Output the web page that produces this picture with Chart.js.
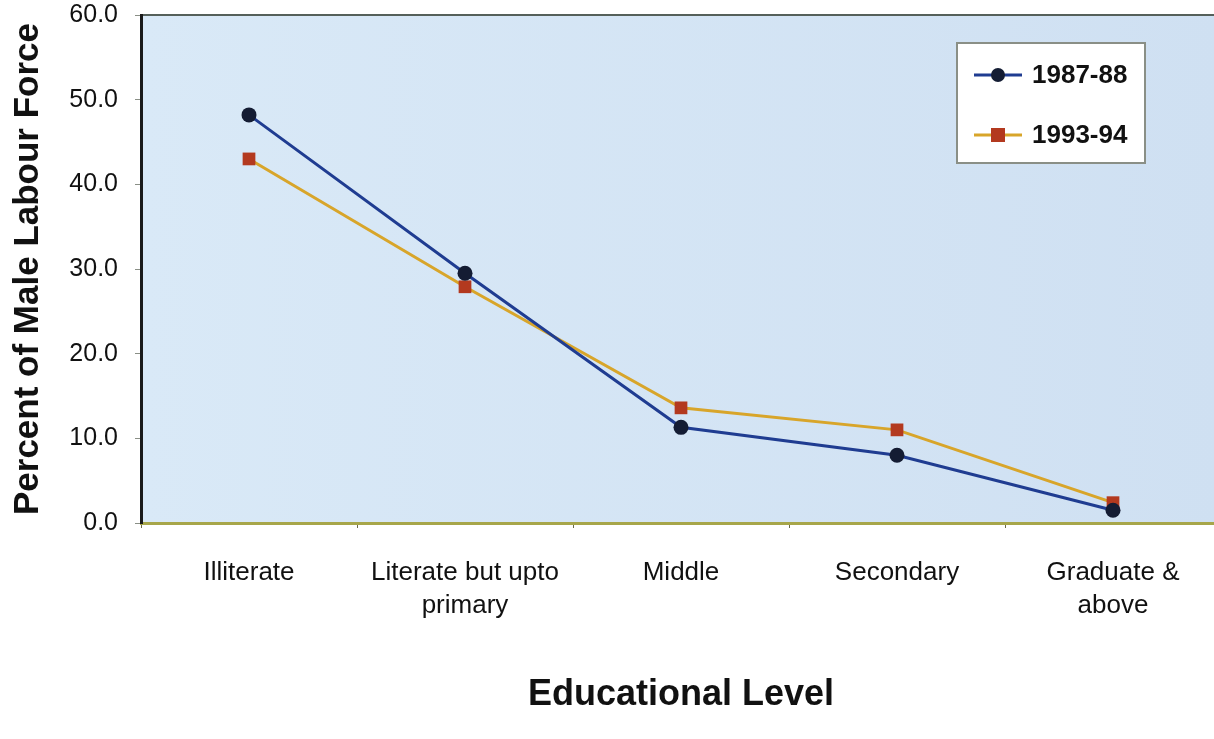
<!DOCTYPE html>
<html>
<head>
  <meta charset="utf-8">
  <title>Male Labour Force by Educational Level</title>
  <script src="https://cdn.jsdelivr.net/npm/chart.js"></script>
  <style>
    html, body { margin: 0; padding: 0; background: #fff; overflow: hidden; }
    #wrap { width: 1232px; height: 739px; }
  </style>
</head>
<body>
  <div id="wrap"><canvas id="eduChart" width="1232" height="739"></canvas></div>
  <script>
    const CATEGORIES = [
      'Illiterate',
      ['Literate but upto', 'primary'],
      'Middle',
      'Secondary',
      ['Graduate &', 'above']
    ];
    const SERIES_NAMES = ['1987-88', '1993-94'];
    const VALUES_1987 = [48.2, 29.5, 11.3, 8.0, 1.5];
    const VALUES_1993 = [43.0, 27.9, 13.6, 11.0, 2.4];
    const Y_TICKS = [0, 10, 20, 30, 40, 50, 60];

    const FONT = "'Liberation Sans', Arial, Helvetica, sans-serif";

    // plot background + top border
    const plotBg = {
      id: 'plotBg',
      beforeDraw(chart) {
        const { ctx, chartArea: a } = chart;
        ctx.save();
        const g = ctx.createLinearGradient(a.left, 0, a.right, 0);
        g.addColorStop(0, '#d9e9f7');
        g.addColorStop(1, '#cfe0f2');
        ctx.fillStyle = g;
        ctx.fillRect(a.left, a.top, a.right - a.left, a.bottom - a.top);
        ctx.strokeStyle = '#55605a';
        ctx.lineWidth = 2;
        ctx.beginPath();
        ctx.moveTo(a.left, a.top);
        ctx.lineTo(a.right, a.top);
        ctx.stroke();
        ctx.restore();
      }
    };

    // boxed legend inside the plot, top right
    const boxLegend = {
      id: 'boxLegend',
      afterDatasetsDraw(chart) {
        const { ctx } = chart;
        const x = 957, y = 43, w = 188, h = 120;
        ctx.save();
        ctx.fillStyle = '#ffffff';
        ctx.fillRect(x, y, w, h);
        ctx.strokeStyle = '#8a8f86';
        ctx.lineWidth = 2;
        ctx.strokeRect(x, y, w, h);
        chart.data.datasets.forEach((ds, i) => {
          const cy = y + 32 + i * 60;
          ctx.strokeStyle = ds.borderColor;
          ctx.lineWidth = 3;
          ctx.beginPath();
          ctx.moveTo(x + 17, cy);
          ctx.lineTo(x + 65, cy);
          ctx.stroke();
          ctx.fillStyle = ds.pointBackgroundColor;
          if (ds.pointStyle === 'rect') {
            ctx.fillRect(x + 41 - 7, cy - 7, 14, 14);
          } else {
            ctx.beginPath();
            ctx.arc(x + 41, cy, 7, 0, Math.PI * 2);
            ctx.fill();
          }
          ctx.fillStyle = '#111';
          ctx.font = 'bold 26px ' + FONT;
          ctx.textBaseline = 'middle';
          ctx.textAlign = 'left';
          ctx.fillText(ds.label, x + 75, cy + 1);
        });
        ctx.restore();
      }
    };

    const ctx = document.getElementById('eduChart').getContext('2d');
    const chart = new Chart(ctx, {
      type: 'line',
      data: {
        labels: CATEGORIES,
        datasets: [
          {
            label: SERIES_NAMES[0],
            data: VALUES_1987,
            borderColor: '#1f3c91',
            borderWidth: 3,
            pointStyle: 'circle',
            pointRadius: 7.5,
            pointBackgroundColor: '#141c33',
            pointBorderWidth: 0,
            fill: false,
            tension: 0
          },
          {
            label: SERIES_NAMES[1],
            data: VALUES_1993,
            borderColor: '#d8a52a',
            borderWidth: 3,
            pointStyle: 'rect',
            pointRadius: 9,
            pointBackgroundColor: '#b3391f',
            pointBorderWidth: 0,
            fill: false,
            tension: 0
          }
        ]
      },
      options: {
        responsive: false,
        animation: false,
        devicePixelRatio: 1,
        layout: { autoPadding: false, padding: { top: 15, right: 11, left: 0, bottom: 0 } },
        plugins: {
          legend: { display: false },
          tooltip: { enabled: false }
        },
        scales: {
          x: {
            type: 'category',
            offset: true,
            afterFit(scale) {
              scale.height = 216;
              scale.paddingLeft = 0;
              scale.paddingRight = 0;
            },
            grid: {
              offset: true,
              drawOnChartArea: false,
              drawTicks: true,
              tickLength: 5,
              tickColor: '#6b6b4a'
            },
            border: { display: true, color: '#a7a64a', width: 3 },
            ticks: {
              color: '#111',
              font: { family: FONT, size: 26, lineHeight: 1.27 },
              padding: 28,
              maxRotation: 0,
              autoSkip: false
            },
            title: {
              display: true,
              text: 'Educational Level',
              color: '#111',
              font: { family: FONT, size: 36, weight: 'bold', lineHeight: 1.2 },
              padding: { top: 0, bottom: 22 }
            }
          },
          y: {
            min: 0,
            max: 60,
            afterFit(scale) {
              scale.width = 141;
              scale.paddingTop = 0;
              scale.paddingBottom = 0;
            },
            afterBuildTicks(scale) { scale.ticks = Y_TICKS.map(v => ({ value: v })); },
            grid: {
              drawOnChartArea: false,
              drawTicks: true,
              tickLength: 6,
              tickColor: '#8a8f86'
            },
            border: { display: true, color: '#1a1a1a', width: 3 },
            ticks: {
              color: '#111',
              font: { family: FONT, size: 25 },
              padding: 17,
              callback: v => Number(v).toFixed(1)
            },
            title: {
              display: true,
              text: 'Percent of Male Labour Force',
              color: '#111',
              font: { family: FONT, size: 35, weight: 'bold', lineHeight: 1.2 },
              padding: { top: 7, bottom: 0 }
            }
          }
        }
      },
      plugins: [plotBg, boxLegend]
    });
  </script>
</body>
</html>
